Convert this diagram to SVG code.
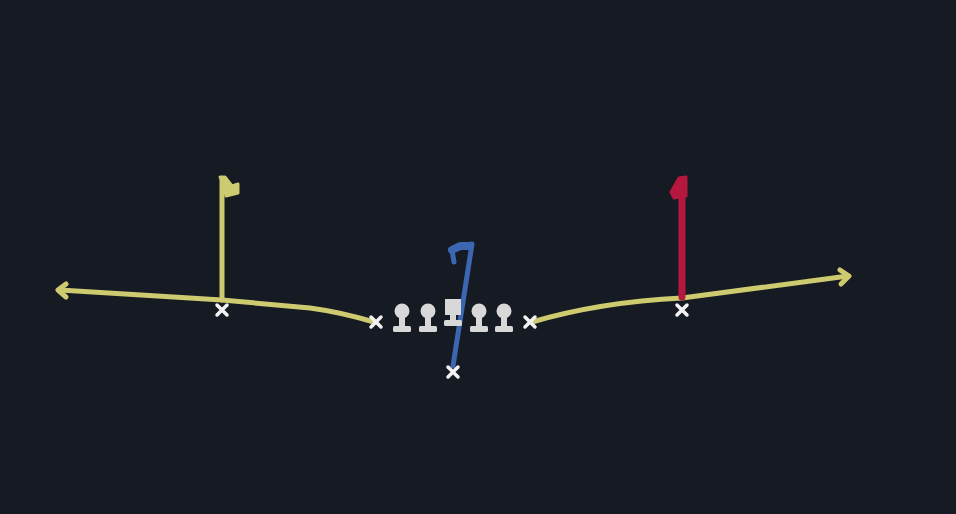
<svg xmlns="http://www.w3.org/2000/svg" width="956" height="514" viewBox="0 0 956 514">
<style>
.y{fill:none;stroke:#cdca70;stroke-width:5;stroke-linecap:round;stroke-linejoin:round}
.yf{fill:#cdca70;stroke:#cdca70;stroke-width:3;stroke-linejoin:round}
.r{fill:none;stroke:#b5173e;stroke-width:7;stroke-linecap:round;stroke-linejoin:round}
.rf{fill:#b5173e;stroke:#b5173e;stroke-width:3;stroke-linejoin:round}
.b{fill:none;stroke:#3c66b2;stroke-width:5;stroke-linecap:round;stroke-linejoin:round}
.x{stroke:#f2f2f2;stroke-width:3.5;stroke-linecap:round}
.ol{fill:#d8d8d8}
</style>
<defs>
<g id="xm"><line class="x" x1="-5" y1="-5" x2="5" y2="5"/><line class="x" x1="-5" y1="5" x2="5" y2="-5"/></g>
<g id="lm"><circle class="ol" cx="0" cy="-13" r="7.5"/><rect class="ol" x="-3" y="-7" width="6" height="10"/><rect class="ol" x="-9" y="2" width="18" height="6" rx="1.5"/></g>
</defs>
<rect width="956" height="514" fill="#161a22"/>
<g id="connectors">
<path class="y" d="M60 290 L222 300 L310 308 Q340 312 374 322"/>
<path class="y" d="M66 284 L58 290 L66 297"/>
<path class="y" d="M532 322 Q600 302 682 298 L848 276"/>
<path class="y" d="M840 270 L849 276 L841 284"/>
<path class="y" d="M222 300 L222 180"/>
<path class="yf" d="M220 177 L225 177 L232 186 L238 184 L238 193 L226 196 L224 186 Z"/>
<path class="r" d="M682 297 L682 182"/>
<path class="rf" d="M679 178 L686 177 L686 196 L674 198 L671 192 Z"/>
<path class="b" d="M453 366 L472 244 L452 250 L454 262"/>
<path class="b" d="M470 246 L460 246 L452 250" style="stroke-width:8"/>
</g>
<g id="wr-left"><use href="#xm" x="222" y="310"/></g>
<g id="te-left"><use href="#xm" x="376" y="322"/></g>
<g id="te-right"><use href="#xm" x="530" y="322"/></g>
<g id="wr-right"><use href="#xm" x="682" y="310"/></g>
<g id="qb"><use href="#xm" x="453" y="372"/></g>
<g id="lt"><use href="#lm" x="402" y="324"/></g>
<g id="lg"><use href="#lm" x="428" y="324"/></g>
<g id="c"><rect class="ol" x="445" y="299" width="16" height="16"/><rect class="ol" x="450" y="313" width="6" height="8"/><rect class="ol" x="444" y="320" width="18" height="6" rx="1.5"/></g>
<g id="rg"><use href="#lm" x="479" y="324"/></g>
<g id="rt"><use href="#lm" x="504" y="324"/></g>
</svg>
